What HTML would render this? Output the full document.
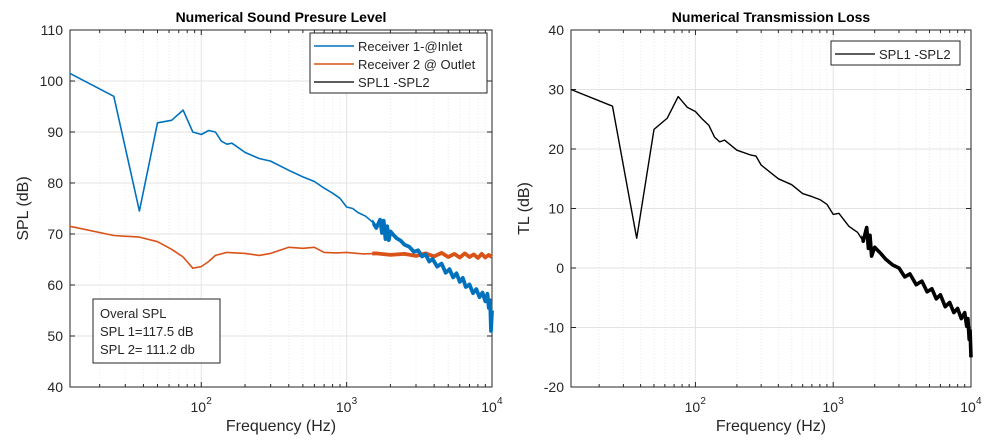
<!DOCTYPE html>
<html><head><meta charset="utf-8"><style>
body{margin:0;background:#fff;width:1000px;height:437px;overflow:hidden}
svg{font-family:"Liberation Sans",Arial,sans-serif}
</style></head><body>
<svg id="fig" width="1000" height="437" viewBox="0 0 1000 437"></svg>
<script>
// ---- data ----
const inletFreq = [12.5,25,37.5,50,62.5,75,87.5,100,112.5,125,137.5,150,162.5,200,250,300,400,500,600,700,800,900,1000,1100,1200,1350,1500,1600,1700,1750,1800,1850,1900,1950,2000,2100,2200,2350,2500,2700,2900,3100,3300,3500,3700,3900,4200,4500,4800,5100,5400,5700,6000,6300,6600,7000,7400,7800,8200,8600,9000,9300,9500,9700,9850,10000];
const inletSPL = [101.5,97,74.5,91.8,92.3,94.3,90,89.5,90.3,90,88.2,87.6,87.8,86,84.8,84.3,82.5,81.2,80.3,79,78,77,75.3,75,74.2,73.5,72.4,71.2,72.8,70.2,72.6,69,71.5,68.8,70.5,69.8,69.2,68.7,67.9,67.5,66.5,66.8,65.6,66,64.6,65.1,63.6,64.2,62.4,63.1,61.5,62.3,60.6,61.4,59.6,60.1,58.4,59.2,57.6,58.5,56.8,58.3,55.5,57,51,55];
const outletFreq = [12.5,25,37.5,50,62.5,75,87.5,100,112.5,125,150,200,250,300,400,500,600,700,850,1000,1300,1600,2000,2500,3000,3500,4000,4500,5000,5500,6000,6500,7000,7500,8000,8500,9000,9500,10000];
const outletSPL = [71.5,69.7,69.4,68.5,67,65.5,63.3,63.6,64.6,65.8,66.4,66.2,65.8,66.2,67.4,67.2,67.4,66.4,66.3,66.4,66.1,66.2,65.9,66.1,65.7,66.2,65.6,66.3,65.5,66.1,65.4,66.2,65.5,66,65.3,66.1,65.4,65.9,65.5];
const tlFreq = [12.5,25,37.5,50,62.5,75,87.5,100,112.5,125,137.5,150,162.5,200,250,275,300,400,500,600,700,800,900,1000,1100,1300,1500,1650,1750,1800,1850,1900,2000,2200,2400,2700,3000,3300,3600,4000,4400,4800,5200,5600,6000,6500,7000,7500,8000,8500,9000,9300,9500,9700,9850,10000];
const tlValues = [30,27.2,5,23.3,25.2,28.8,27,26.3,25,24,22,21.2,21.5,19.8,19,18.8,17.3,15,14,12.5,12,11.5,10.7,9,9.2,7,6,4.5,6.8,3.3,5.5,2,3.5,2.5,1.5,0.5,0,-1.5,-1,-2.8,-2.2,-4,-3.5,-5.2,-4.5,-6.5,-5.8,-7.5,-6.8,-8.5,-7.5,-9.8,-8.5,-12,-10.5,-15];
const spl1Ticks = [40,50,60,70,80,90,100,110];
const tlTicks = [-20,-10,0,10,20,30,40];
const decadeExps = [2,3,4];

const svg = document.getElementById('fig');
const NS = 'http://www.w3.org/2000/svg';
function mk(tag, attrs, parent){const e=document.createElementNS(NS,tag);for(const k in attrs)e.setAttribute(k,attrs[k]);(parent||svg).appendChild(e);return e;}

function drawAxes(cfg){
  const {x0,x1,y0,y1,fmin,fmax,vmin,vmax,ticks,title,ylabel,prefix} = cfg;
  const lx = f => x0 + (Math.log10(f)-Math.log10(fmin))/(Math.log10(fmax)-Math.log10(fmin))*(x1-x0);
  const ly = v => y1 - (v-vmin)/(vmax-vmin)*(y1-y0);
  const g = mk('g',{});
  
  
  for(let d=1; d<=3; d++){
    for(let m=1;m<=9;m++){
      const f = m*Math.pow(10,d);
      if(f<fmin||f>fmax) continue;
      const x=lx(f);
      if(m===1){
        const l=mk('line',{x1:x,x2:x,y1:y0,y2:y1,stroke:'#e3e3e3','stroke-width':1},g);
        
        
      } else {
        const l=mk('line',{x1:x,x2:x,y1:y0,y2:y1,stroke:'#ececec','stroke-width':1,'stroke-dasharray':'1,2'},g);
        
        
      }
      mk('line',{x1:x,x2:x,y1:y1,y2:y1-(m===1?5:3),stroke:'#262626'},g);
      mk('line',{x1:x,x2:x,y1:y0,y2:y0+(m===1?5:3),stroke:'#262626'},g);
    }
  }
  ticks.forEach(v=>{
    const y=ly(v);
    const l=mk('line',{x1:x0,x2:x1,y1:y,y2:y,stroke:'#e3e3e3'},g);
    
    
    mk('line',{x1:x0,x2:x0+5,y1:y,y2:y,stroke:'#262626'},g);
    mk('line',{x1:x1,x2:x1-5,y1:y,y2:y,stroke:'#262626'},g);
    const t=mk('text',{x:x0-7,y:y+5,'text-anchor':'end','font-size':14,fill:'#262626'},g);
    t.textContent=v;
    
    
  });
  decadeExps.forEach(e=>{
    const x=lx(Math.pow(10,e));
    const t=mk('text',{x:x-3,y:412,'text-anchor':'middle','font-size':14,fill:'#262626'},g);
    t.textContent='10';
    
    
    const s=mk('text',{x:x+5,y:404,'text-anchor':'start','font-size':10,fill:'#262626'},g);
    s.textContent=e;
  });
  const box=mk('rect',{x:x0,y:y0,width:x1-x0,height:y1-y0,fill:'none',stroke:'#262626','stroke-width':1},g);
  
  
  const tt=mk('text',{x:(x0+x1)/2,y:22,'text-anchor':'middle','font-size':14,'font-weight':'bold',fill:'#000'});
  tt.textContent=title;
  
  
  const xl=mk('text',{x:(x0+x1)/2,y:431,'text-anchor':'middle','font-size':16,fill:'#262626'});
  xl.textContent='Frequency (Hz)';
  
  
  const yc=(y0+y1)/2;
  const yl=mk('text',{x:0,y:0,transform:`translate(${x0-42},${yc}) rotate(-90)`,'text-anchor':'middle','font-size':16,fill:'#262626'});
  yl.textContent=ylabel;
  
  
  return {lx,ly};
}
function series(ax, fs, vs, color, w, name, noisyFrom){
  const d = fs.map((f,i)=>(i?'L':'M')+ax.lx(f).toFixed(1)+','+ax.ly(vs[i]).toFixed(1)).join(' ');
  const p=mk('path',{d,fill:'none',stroke:color,'stroke-width':w,'stroke-linejoin':'round'});
  
  
  if(noisyFrom){
    const cid='clip-'+name;
    const cp=mk('clipPath',{id:cid});
    mk('rect',{x:ax.lx(noisyFrom),y:0,width:1000,height:437},cp);
    const p2=mk('path',{d,fill:'none',stroke:color,'stroke-width':w+2.2,'stroke-linejoin':'round','clip-path':`url(#${cid})`});
    
    
  }
}

const axL = drawAxes({x0:70,x1:492,y0:30,y1:387,fmin:12.5,fmax:10000,vmin:40,vmax:110,ticks:spl1Ticks,title:'Numerical Sound Presure Level',ylabel:'SPL (dB)',prefix:'spl'});
const axR = drawAxes({x0:571,x1:971,y0:30,y1:387,fmin:12.5,fmax:10000,vmin:-20,vmax:40,ticks:tlTicks,title:'Numerical Transmission Loss',ylabel:'TL (dB)',prefix:'tl'});
series(axL, outletFreq, outletSPL, '#d95319', 1.6, 'receiver-2-outlet-line', 1500);
series(axL, inletFreq, inletSPL, '#0072bd', 1.6, 'receiver-1-inlet-line', 1500);
series(axR, tlFreq, tlValues, '#000', 1.4, 'tl-spl1-spl2-line', 1600);

function legend(x,y,w,entries,prefix){
  const g=mk('g',{});
  
  
  mk('rect',{x,y,width:w,height:entries.length*18+6,fill:'#fff',stroke:'#262626'},g);
  entries.forEach((e,i)=>{
    const yy=y+13+i*18;
    mk('line',{x1:x+4,x2:x+44,y1:yy,y2:yy,stroke:e[1],'stroke-width':1.5},g);
    const t=mk('text',{x:x+48,y:yy+5,'font-size':13,fill:'#262626'},g);
    t.textContent=e[0];
    
    
  });
}
legend(310,33,177,[['Receiver 1-@Inlet','#0072bd'],['Receiver 2 @ Outlet','#d95319'],['SPL1 -SPL2','#262626']],'spl');
legend(831,41,129,[['SPL1 -SPL2','#262626']],'tl');
const ag=mk('g',{});


mk('rect',{x:93,y:299,width:127,height:64,fill:'#fff',stroke:'#262626'},ag);
['Overal SPL','SPL 1=117.5 dB','SPL 2= 111.2 db'].forEach((s,i)=>{
  const t=mk('text',{x:100,y:318+i*18,'font-size':13,fill:'#262626'},ag);t.textContent=s;
});
</script>
</body></html>
